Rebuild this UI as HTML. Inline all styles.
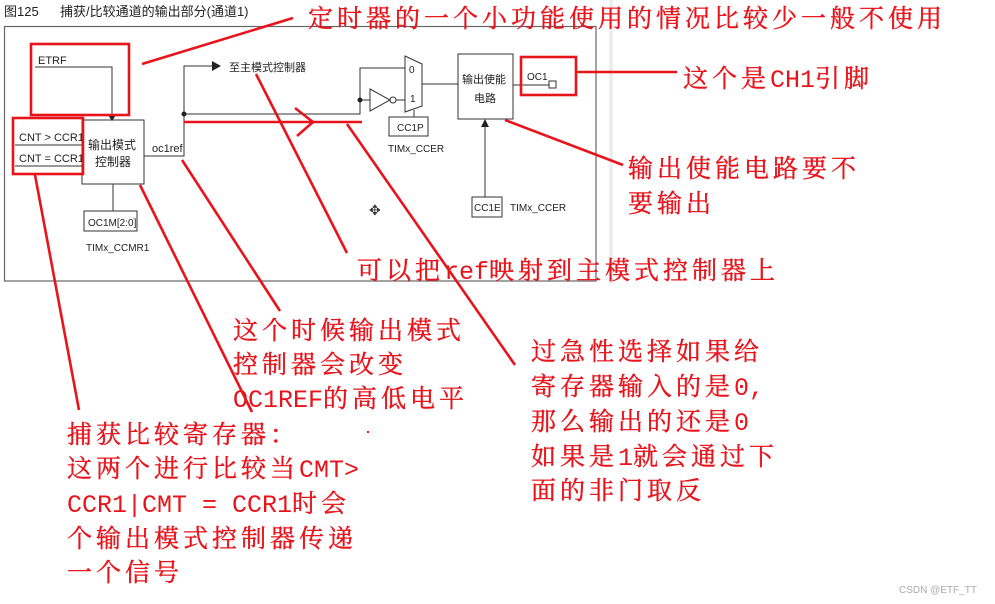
<!DOCTYPE html>
<html><head><meta charset="utf-8"><style>
html,body{margin:0;padding:0;background:#fff;width:995px;height:604px;overflow:hidden}
svg{display:block}
.d{font-family:"Liberation Sans","Noto Sans CJK SC",sans-serif;fill:#222}
.r{font-family:"Noto Serif CJK SC",serif;fill:#e8141c;font-size:25px;letter-spacing:4px;stroke:#e8141c;stroke-width:0.4}
.m{font-family:"Liberation Mono",monospace;letter-spacing:0;stroke-width:0}
</style></head><body>
<svg width="995" height="604" viewBox="0 0 995 604" xmlns="http://www.w3.org/2000/svg">
<rect x="609" y="0" width="4" height="284" fill="#eee"/>
<text class="d" x="4" y="16" font-size="13">图125</text>
<text class="d" x="60" y="16" font-size="13">捕获/比较通道的输出部分(通道1)</text>
<rect x="4.5" y="26.5" width="591.5" height="254.5" fill="none" stroke="#666" stroke-width="1.2"/>
<g stroke="#333" stroke-width="1" fill="none">
<path d="M35 67H112V115"/>
<rect x="82" y="120" width="62" height="64" fill="#fff"/>
<path d="M15 145H82M15 166H82"/>
<path d="M144 156H184V66H212"/>
<path d="M184 114H360V68H405"/>
<path d="M360 100H370"/>
<path d="M370 89L390 100L370 111Z"/>
<circle cx="393" cy="100" r="3"/>
<path d="M396 100H405"/>
<path d="M405 56L422 64V106L405 112Z"/>
<path d="M422 84H458"/>
<path d="M414 110V117"/>
<rect x="389" y="117" width="39" height="19"/>
<rect x="458" y="54" width="55" height="65"/>
<path d="M513 85H549"/>
<rect x="549" y="81" width="7" height="7"/>
<path d="M485 197V126"/>
<rect x="472" y="197" width="30" height="20"/>
<path d="M113 184V211"/>
<rect x="84" y="211" width="53" height="20"/>
</g>
<g fill="#222">
<path d="M108 115L116 115L112 121Z"/>
<path d="M212 61L221 66L212 71Z"/>
<circle cx="184" cy="114" r="2.5"/>
<circle cx="360" cy="100" r="2.5"/>
<path d="M481 127L485 119L489 127Z"/>
</g>
<text class="d" x="38" y="64" font-size="11">ETRF</text>
<text class="d" x="19" y="141" font-size="11">CNT &gt; CCR1</text>
<text class="d" x="19" y="162" font-size="11">CNT = CCR1</text>
<text class="d" x="88" y="149" font-size="12">输出模式</text>
<text class="d" x="95" y="166" font-size="12">控制器</text>
<text class="d" x="152" y="152" font-size="11">oc1ref</text>
<text class="d" x="229" y="71" font-size="11">至主模式控制器</text>
<text class="d" x="409" y="73" font-size="10">0</text>
<text class="d" x="410" y="102" font-size="10">1</text>
<text class="d" x="397" y="131" font-size="10">CC1P</text>
<text class="d" x="388" y="152" font-size="10">TIMx_CCER</text>
<text class="d" x="462" y="83" font-size="11">输出使能</text>
<text class="d" x="474" y="102" font-size="11">电路</text>
<text class="d" x="527" y="80" font-size="10">OC1</text>
<text class="d" x="474" y="211" font-size="10">CC1E</text>
<text class="d" x="510" y="211" font-size="10">TIMx_CCER</text>
<text class="d" x="88" y="226" font-size="10">OC1M[2:0]</text>
<text class="d" x="86" y="251" font-size="10">TIMx_CCMR1</text>
<text x="369" y="215" font-size="14" fill="#333">✥</text>
<g stroke="#e8141c" stroke-width="2.6" fill="none">
<rect x="31" y="44" width="98" height="71"/>
<rect x="13" y="118" width="70" height="56"/>
<rect x="521" y="57" width="55" height="38"/>
<path d="M184 122H362"/>
<path d="M295 108L313 122L297 136"/>
<path d="M142 64L293 18"/>
<path d="M576 72H677"/>
<path d="M505 120L623 165"/>
<path d="M256 74L347 253"/>
<path d="M182 160L280 311"/>
<path d="M140 185L252 412"/>
<path d="M35 175L79 410"/>
<path d="M347 124L515 365"/>
</g>
<text class="r" x="308" y="27">定时器的一个小功能使用的情况比较少一般不使用</text>
<text class="r" x="683" y="87">这个是<tspan class="m">CH1</tspan>引脚</text>
<text class="r" x="628" y="177">输出使能电路要不</text>
<text class="r" x="628" y="212">要输出</text>
<text class="r" x="357" y="279">可以把<tspan class="m">ref</tspan>映射到主模式控制器上</text>
<text class="r" x="233" y="339">这个时候输出模式</text>
<text class="r" x="233" y="373">控制器会改变</text>
<text class="r" x="233" y="407"><tspan class="m">OC1REF</tspan>的高低电平</text>
<rect x="367" y="431" width="2" height="2" fill="#e8141c"/>
<text class="r" x="67" y="443">捕获比较寄存器：</text>
<text class="r" x="67" y="477">这两个进行比较当<tspan class="m">CMT&gt;</tspan></text>
<text class="r" x="67" y="512"><tspan class="m">CCR1|CMT = CCR1</tspan>时会</text>
<text class="r" x="67" y="547">个输出模式控制器传递</text>
<text class="r" x="67" y="581">一个信号</text>
<text class="r" x="531" y="360">过急性选择如果给</text>
<text class="r" x="531" y="395">寄存器输入的是<tspan class="m">0,</tspan></text>
<text class="r" x="531" y="430">那么输出的还是<tspan class="m">0</tspan></text>
<text class="r" x="531" y="465">如果是<tspan class="m">1</tspan>就会通过下</text>
<text class="r" x="531" y="499">面的非门取反</text>
<text x="899" y="593" font-size="10" fill="#aaa" font-family="Liberation Sans,sans-serif">CSDN @ETF_TT</text>
</svg>
</body></html>
